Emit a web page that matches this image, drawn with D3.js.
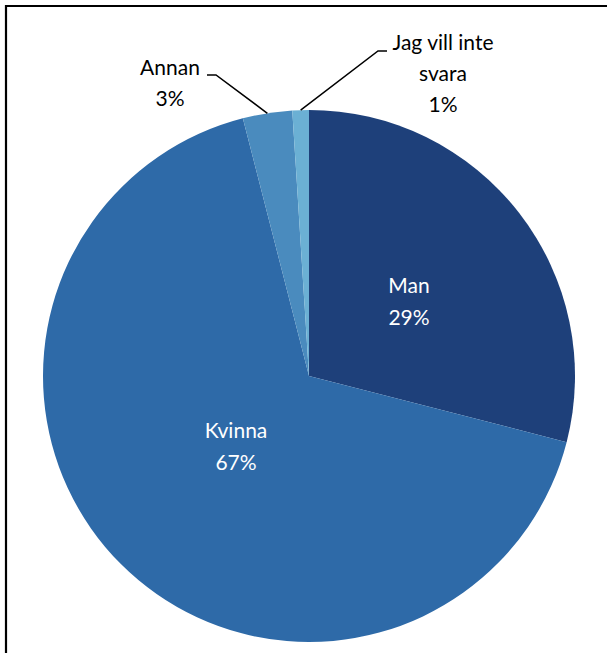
<!DOCTYPE html>
<html><head><meta charset="utf-8">
<script src="https://cdn.jsdelivr.net/npm/d3@7"></script>
<style>body{margin:0;background:#fff}svg{display:block}</style>
</head><body>
<script>
const categories = ["Man", "Kvinna", "Annan", "Jag vill inte svara"];
const values = [29, 67, 3, 1];
const percentLabels = ["29%", "67%", "3%", "1%"];
const colors = ["#1E407A", "#2E6AA8", "#4A8BBE", "#6BB0D4"];

const W = 607, H = 653;
const svg = d3.select("body").append("svg").attr("width", W).attr("height", H);

// frame
svg.append("path").attr("d", "M6,660 L6,6 L620,6")
  .attr("fill", "none").attr("stroke", "#000").attr("stroke-width", 2.2);

const cx = 309, cy = 376, R = 266;
const g = svg.append("g").attr("transform", `translate(${cx},${cy})`);
const pie = d3.pie().sort(null).value(d => d)(values);
const arc = d3.arc().innerRadius(0).outerRadius(R);
const color = d3.scaleOrdinal().domain(categories).range(colors);

g.selectAll("path.slice").data(pie).enter().append("path")
  .attr("class", "slice")
  .attr("d", arc)
  .attr("fill", (d, i) => color(categories[i]));

const font = "Lato, 'Open Sans', sans-serif";
const fs = 21;

// inside labels
const inside = [
  {i: 0, x: 409, y: 293},
  {i: 1, x: 236, y: 438}
];
inside.forEach(p => {
  const t = svg.append("text").attr("text-anchor", "middle")
    .attr("font-family", font).attr("font-size", fs).attr("fill", "#fff");
  t.append("tspan").attr("x", p.x).attr("y", p.y).text(categories[p.i]);
  t.append("tspan").attr("x", p.x).attr("y", p.y + 32).text(percentLabels[p.i]);
});

// outside labels with leader lines
const pt = (d, r) => { const a = (d.startAngle + d.endAngle) / 2; return [cx + r * Math.sin(a), cy - r * Math.cos(a)]; };

// Annan
{
  const d = pie[2];
  const e = pt(d, R);
  svg.append("polyline").attr("points", `207,75 216,75 ${e[0]},${e[1]}`)
    .attr("fill", "none").attr("stroke", "#000").attr("stroke-width", 1.5);
  const t = svg.append("text").attr("text-anchor", "middle")
    .attr("font-family", font).attr("font-size", fs).attr("fill", "#000");
  t.append("tspan").attr("x", 170).attr("y", 75).text(categories[2]);
  t.append("tspan").attr("x", 170).attr("y", 106).text(percentLabels[2]);
}
// Jag vill inte svara
{
  const d = pie[3];
  const e = pt(d, R);
  svg.append("polyline").attr("points", `387,51 378,51 ${e[0]},${e[1]}`)
    .attr("fill", "none").attr("stroke", "#000").attr("stroke-width", 1.5);
  const t = svg.append("text").attr("text-anchor", "middle")
    .attr("font-family", font).attr("font-size", fs).attr("fill", "#000");
  t.append("tspan").attr("x", 443).attr("y", 50).text("Jag vill inte");
  t.append("tspan").attr("x", 443).attr("y", 81).text("svara");
  t.append("tspan").attr("x", 443).attr("y", 112).text(percentLabels[3]);
}
</script>
</body></html>
